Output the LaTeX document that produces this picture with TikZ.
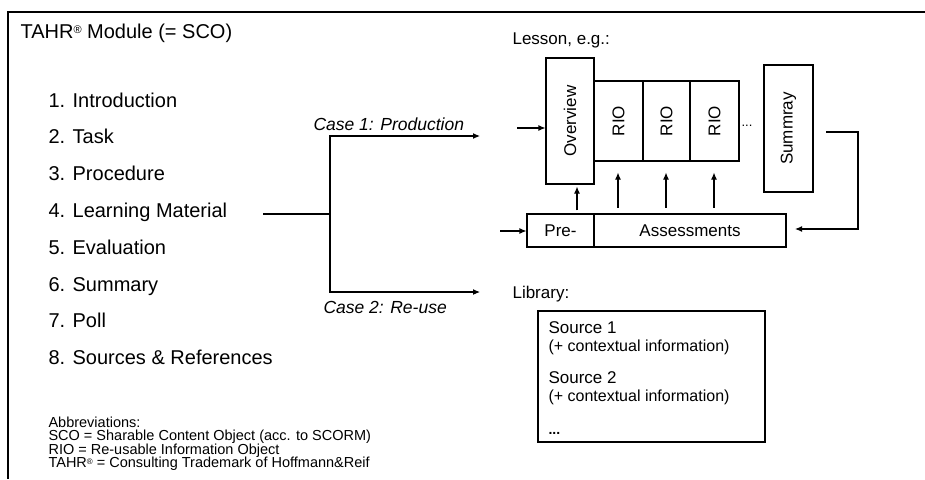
\documentclass[tikz,border=0pt]{standalone}
\usepackage{fontspec}
\setmainfont{Liberation Sans}
\usetikzlibrary{arrows.meta,calc}
\newcommand{\regsmall}{\raisebox{3pt}{\fontsize{8}{8}\selectfont ®}}
\begin{document}
\begin{tikzpicture}[x=1pt,y=-1pt,
  line width=1.1pt,
  arr/.style={-{Latex[length=7pt,width=6pt]}},
  big/.style={font=\fontsize{20}{24}\selectfont, inner sep=0pt, anchor=base west},
  mid/.style={font=\fontsize{17}{20}\selectfont, inner sep=0pt},
  small/.style={font=\fontsize{14.5}{17}\selectfont, inner sep=0pt, anchor=base west},
  box/.style={draw, line width=1.1pt, inner sep=0pt},
  rtext/.style={font=\fontsize{17}{20}\selectfont, inner sep=0pt, rotate=90}]
\useasboundingbox (0,0) rectangle (925,479);
% outer frame (cut off at right and bottom)
\draw[line width=1.5pt] (925,12) -- (8,12) -- (8,479);
% title
\node[big] (title) at (20,38) {TAHR\raisebox{5pt}{\fontsize{11}{11}\selectfont ®} Module (= SCO)};
% list
\node[big] (l1) at (48,107) {1. Introduction};
\node[big] (l2) at (48,143.5) {2. Task};
\node[big] (l3) at (48,180) {3. Procedure};
\node[big] (l4) at (48,217) {4. Learning Material};
\node[big] (l5) at (48,254) {5. Evaluation};
\node[big] (l6) at (48,291) {6. Summary};
\node[big] (l7) at (48,327.5) {7. Poll};
\node[big] (l8) at (48,364) {8. Sources \& References};
% fork
\coordinate (lmstart) at (263,214);
\coordinate (fork) at (330,214);
\coordinate (p1) at (480,136);
\coordinate (p2) at (480,292);
\draw (lmstart) -- (fork);
\draw[arr] (fork) |- (p1);
\draw[arr] (fork) |- (p2);
\node[mid, anchor=base west, font=\fontsize{17.5}{20}\selectfont\itshape] (case1) at (313,130) {Case 1: Production};
\node[mid, anchor=base west, font=\fontsize{17.5}{20}\selectfont\itshape] (case2) at (323,313) {Case 2: Re-use};
% lesson
\node[mid, anchor=base west] (lesson) at (512,44) {Lesson, e.g.:};
\node[box, minimum width=48pt, minimum height=126pt] (ov) at (570,121) {};
\node[rtext] (ovt) at (ov) {Overview};
\node[box, minimum width=49pt, minimum height=80pt] (r1) at (618.5,121) {};
\node[box, minimum width=47pt, minimum height=80pt] (r2) at (666.5,121) {};
\node[box, minimum width=49pt, minimum height=80pt] (r3) at (714.5,121) {};
\node[rtext] (r1t) at (r1) {RIO};
\node[rtext] (r2t) at (r2) {RIO};
\node[rtext] (r3t) at (r3) {RIO};
\node[inner sep=0pt, anchor=base west, font=\fontsize{13}{15}\selectfont] (dots) at (741,126) {...};
\node[box, minimum width=49pt, minimum height=127pt] (sum) at (788.5,128.5) {};
\node[rtext] (sumt) at (sum) {Summray};
\coordinate (ovin) at (517,128);
\draw[arr] (ovin) -- (ovin -| ov.west);
% assessments
\node[box, minimum width=67pt, minimum height=33pt, mid] (pre) at (560.5,230.5) {Pre-};
\node[box, minimum width=192pt, minimum height=33pt, mid] (as) at (690,230.5) {Assessments};
\coordinate (prein) at (500,231);
\draw[arr] (prein) -- (prein -| pre.west);
\coordinate (sumout) at (826,132);
\coordinate (asin) at (795,229);
\draw[arr] (sumout) -- (858,132) -- (858,229) -- (asin);
\draw[arr] ($(pre.north)+(16.5,-3)$) -- ($(ov.south)+(7,2)$);
\draw[arr] ($(r1.south)+(-0.5,46)$) -- ($(r1.south)+(-0.5,11)$);
\draw[arr] ($(r2.south)+(-0.5,46)$) -- ($(r2.south)+(-0.5,11)$);
\draw[arr] ($(r3.south)+(-0.5,46)$) -- ($(r3.south)+(-0.5,11)$);
% library
\node[mid, anchor=base west] (libt) at (512,298) {Library:};
\node[box, minimum width=227pt, minimum height=131pt] (lib) at (651.5,376.5) {};
\node[mid, anchor=base west] (s1) at (548,333) {Source 1};
\node[anchor=base west, inner sep=0pt, font=\fontsize{16}{19}\selectfont] (c1) at (548,351) {(+ contextual information)};
\node[mid, anchor=base west] (s2) at (548,383) {Source 2};
\node[anchor=base west, inner sep=0pt, font=\fontsize{16}{19}\selectfont] (c2) at (548,401) {(+ contextual information)};
\node[anchor=base west, inner sep=0pt, font=\fontsize{14}{16}\selectfont\bfseries] (ld) at (548,434) {...};
% abbreviations
\node[small] (ab0) at (48,427) {Abbreviations:};
\node[small] (ab1) at (48,440.5) {SCO = Sharable Content Object (acc. to SCORM)};
\node[small] (ab2) at (48,454) {RIO = Re-usable Information Object};
\node[small] (ab3) at (48,467.5) {TAHR\regsmall{} = Consulting Trademark of Hoffmann\&Reif};
\end{tikzpicture}
\end{document}
